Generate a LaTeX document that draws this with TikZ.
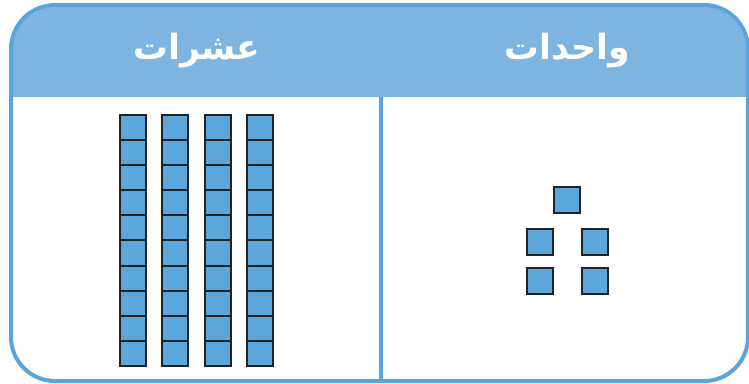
\documentclass[tikz,border=0pt]{standalone}
\usepackage{fontspec}
\newfontfamily\arabicfont[Script=Arabic]{DejaVu Sans}
\TeXXeTstate=1
\usepackage{xcolor}
\usetikzlibrary{positioning,calc}
\definecolor{headblue}{HTML}{7DB5E0}
\definecolor{lineblue}{HTML}{5AA6DC}
\definecolor{cellblue}{HTML}{5BA7DC}
\definecolor{celledge}{HTML}{222222}
\tikzset{
  cell/.style={draw=celledge, fill=cellblue, line width=1.5pt,
               minimum width=19.5pt, minimum height=18.8pt, inner sep=0pt},
  unitcell/.style={cell, minimum height=19.5pt},
  title/.style={text=white, font=\arabicfont\bfseries\fontsize{26}{30}\selectfont},
  frame/.style={draw=lineblue, line width=3pt, rounded corners=33pt}
}
\begin{document}
\begin{tikzpicture}[x=0.75pt, y=-0.75pt]
\useasboundingbox (0,0) rectangle (749,383);
% header band
\begin{scope}
  \clip[rounded corners=33pt] (11,5) rectangle (748,381);
  \fill[headblue] (11,5) rectangle (748,97);
\end{scope}
\coordinate (divtop) at (381,97);
\coordinate (divbot) at (381,381);
\draw[lineblue, line width=3pt] (divtop) -- (divbot);
\draw[frame] (11,5) rectangle (748,381);
% titles
\node[title] (tens) at (197,51) {\beginR عشرات\endR};
\node[title] (ones) at (567,51) {\beginR واحدات\endR};
% tens rods
\foreach \i in {0,...,3}
  \foreach \j in {0,...,9}
    \node[cell] (t-\i-\j) at ({133+42.3*\i},{127.5+25.1*\j}) {};
% ones
\node[unitcell] (u1) at (567,200) {};
\node[unitcell] (u2) at (540,242) {};
\node[unitcell] (u3) at (595,242) {};
\node[unitcell] (u4) at (540,281) {};
\node[unitcell] (u5) at (595,281) {};
\end{tikzpicture}
\end{document}
